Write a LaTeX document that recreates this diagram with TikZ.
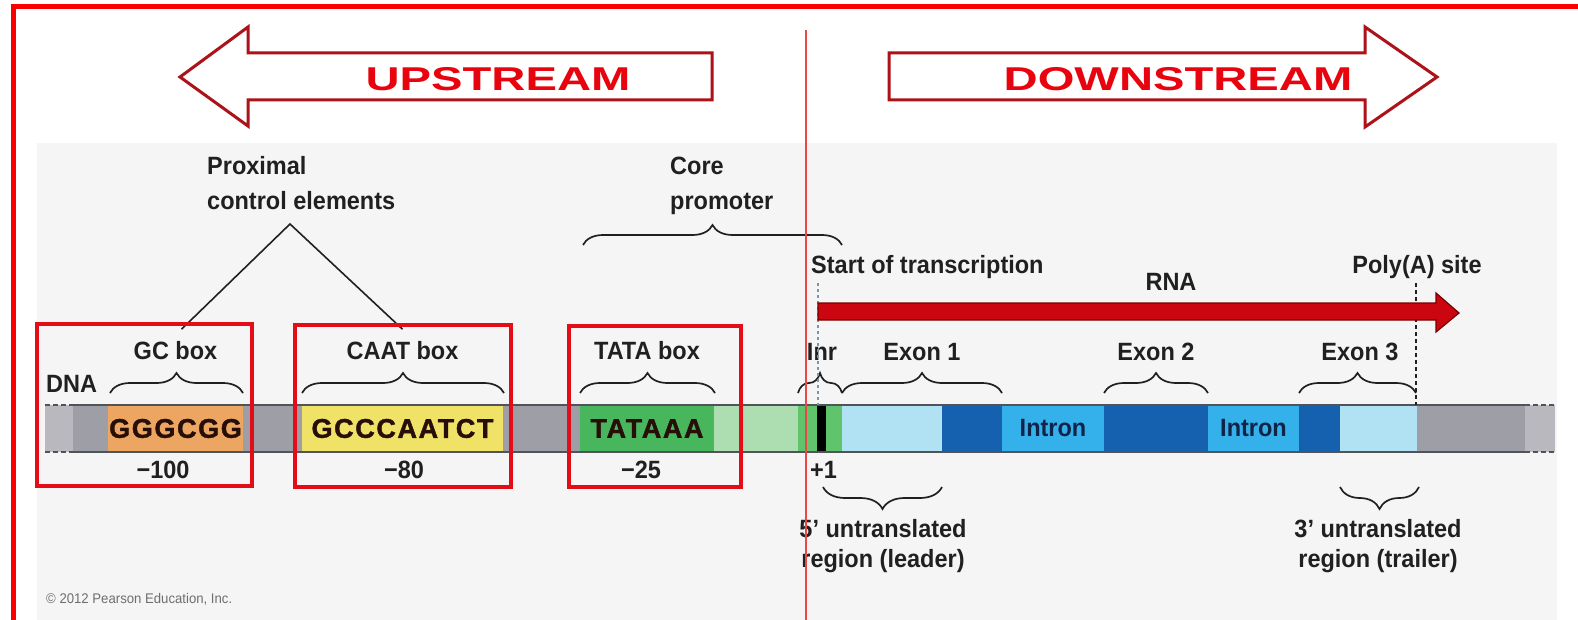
\documentclass[tikz,border=0pt]{standalone}
\usepackage{fontspec}
\setmainfont{Liberation Sans}[FakeStretch=0.94]
\newfontfamily\bannerfont{Liberation Sans}[FakeStretch=1.43]
\newfontfamily\seqfont{Liberation Sans}[LetterSpace=6, FakeBold=1.5]
\usepackage{tikz}
\usetikzlibrary{positioning, decorations.pathreplacing}
\definecolor{framered}{RGB}{250,0,0}
\definecolor{markred}{RGB}{236,70,70}
\definecolor{bannerred}{RGB}{172,18,24}
\definecolor{bannertext}{RGB}{232,4,14}
\definecolor{panelgray}{RGB}{245,245,245}
\definecolor{inkgray}{RGB}{32,32,32}
\definecolor{copygray}{RGB}{110,110,110}
\definecolor{dnagray}{RGB}{158,158,166}
\definecolor{dnaend}{RGB}{184,184,190}
\definecolor{dnaedge}{RGB}{80,84,88}
\definecolor{seqink}{RGB}{40,14,8}
\definecolor{intronink}{RGB}{16,36,72}
\definecolor{gcorange}{RGB}{236,166,98}
\definecolor{caatyellow}{RGB}{240,226,102}
\definecolor{tatagreen}{RGB}{72,182,92}
\definecolor{palegreen}{RGB}{172,222,178}
\definecolor{inrgreen}{RGB}{96,196,108}
\definecolor{utrblue}{RGB}{176,226,243}
\definecolor{exonblue}{RGB}{22,96,176}
\definecolor{intronblue}{RGB}{52,176,234}
\definecolor{rnared}{RGB}{204,6,16}
\definecolor{rnaedge}{RGB}{120,0,0}
\definecolor{boxred}{RGB}{228,12,22}
\definecolor{tssblue}{RGB}{120,150,180}

\begin{document}
\begin{tikzpicture}[x=1pt, y=-1pt,
    lbl/.style={font=\fontsize{25}{35}\selectfont\bfseries, text=inkgray, inner sep=0pt},
    utrlbl/.style={lbl, font=\fontsize{25}{30}\selectfont\bfseries, align=center, anchor=base},
    seg/.style={minimum height=47pt, inner sep=0pt, outer sep=0pt},
    seqbox/.style={seg, font=\fontsize{27}{27}\selectfont\seqfont\bfseries, text=seqink},
    banner/.style={draw=bannerred, line width=3pt, fill=white, line join=miter},
    bannerlbl/.style={font=\fontsize{33}{33}\selectfont\bannerfont\bfseries, text=bannertext, inner sep=0pt},
    brc/.style={decorate, decoration={brace, amplitude=20pt}, draw=inkgray, line width=1.7pt},
    brcdown/.style={brc, decoration={brace, amplitude=22pt}},
    hilite/.style={draw=boxred, line width=3.5pt},
]
  \useasboundingbox (0,0) rectangle (1578,620);
  \fill[white] (0,0) rectangle (1578,620);
  \draw[framered, line width=5pt] (13,620) -- (13,6.5) -- (1578,6.5);

  \draw[banner] (180,77) -- (248,27) -- (248,53) -- (712,53) -- (712,100) -- (248,100) -- (248,126) -- cycle;
  \node[bannerlbl] (upstream) at (498,79) {UPSTREAM};
  \draw[banner] (1437,77) -- (1365,27) -- (1365,53) -- (889,53) -- (889,100) -- (1365,100) -- (1365,127) -- cycle;
  \node[bannerlbl] (downstream) at (1178,79) {DOWNSTREAM};

  \fill[panelgray] (37,143) rectangle (1557,620);

  \fill[dnagray] (73,405) rectangle (1525,452);
  \fill[dnaend] (45,405) rectangle (73,452);
  \fill[dnaend] (1525,405) rectangle (1555,452);
  \node[seqbox, fill=gcorange, minimum width=135pt] (gc) at (175.5,428.5) {GGGCGG};
  \node[seqbox, fill=caatyellow, minimum width=201pt] (caat) at (402.5,428.5) {GCCCAATCT};
  \node[seqbox, fill=tatagreen, minimum width=134pt] (tata) at (647,428.5) {TATAAA};
  \fill[palegreen] (714,405) rectangle (798,452);
  \fill[inrgreen] (798,405) rectangle (842,452);
  \fill[black] (817,405) rectangle (826,452);
  \fill[utrblue] (842,405) rectangle (942,452);
  \fill[exonblue] (942,405) rectangle (1002,452);
  \node[seg, lbl, fill=intronblue, minimum width=102pt, text=intronink] (intron1) at (1053,428.5) {Intron};
  \fill[exonblue] (1104,405) rectangle (1208,452);
  \node[seg, lbl, fill=intronblue, minimum width=91pt, text=intronink] (intron2) at (1253.5,428.5) {Intron};
  \fill[exonblue] (1299,405) rectangle (1340,452);
  \fill[utrblue] (1340,405) rectangle (1417,452);
  \draw[dnaedge, line width=2pt] (73,405) -- (1525,405) (73,452) -- (1525,452);
  \draw[dnaedge, line width=2pt, dash pattern=on 5pt off 3pt]
    (45,405) -- (73,405) (45,452) -- (73,452) (1525,405) -- (1555,405) (1525,452) -- (1555,452);

  \node[lbl, anchor=base west] (dna) at (46,392) {DNA};
  \node[lbl, above=45pt of gc] (gclbl) {GC box};
  \node[lbl, above=45pt of caat] (caatlbl) {CAAT box};
  \node[lbl, above=45pt of tata] (tatalbl) {TATA box};
  \node[lbl, anchor=base] (inrlbl) at (822,360) {Inr};
  \node[lbl, anchor=base] (exon1lbl) at (922,360) {Exon 1};
  \node[lbl, anchor=base] (exon2lbl) at (1156,360) {Exon 2};
  \node[lbl, anchor=base] (exon3lbl) at (1360,360) {Exon 3};

  \draw[brc] (110,393) -- (243,393);
  \draw[brc] (302,393) -- (504,393);
  \draw[brc] (580,393) -- (715,393);
  \draw[brc] (798,393) -- (842,393);
  \draw[brc] (842,393) -- (1002,393);
  \draw[brc] (1104,393) -- (1208,393);
  \draw[brc] (1299,393) -- (1416,393);
  \draw[brc] (583,245) -- (842,245);
  \draw[brcdown] (942,487) -- (823,487);
  \draw[brcdown] (1419,487) -- (1340,487);

  \node[lbl, align=left, anchor=base west] (proximal) at (207,210) {Proximal\\control elements};
  \node[lbl, align=left, anchor=base west] (core) at (670,210) {Core\\promoter};
  \coordinate (fork) at (290,224);
  \draw[inkgray, line width=1.6pt] ([xshift=6pt,yshift=12pt]gclbl.north) -- (fork) -- ([yshift=12pt]caatlbl.north);

  \node[lbl, anchor=base] (pos100) at (163,478) {−100};
  \node[lbl, anchor=base] (pos80) at (404,478) {−80};
  \node[lbl, anchor=base] (pos25) at (641,478) {−25};
  \node[lbl, anchor=base west] (pos1) at (810,478) {+1};

  \node[lbl, anchor=base west] (tss) at (811,273) {Start of transcription};
  \node[lbl, anchor=base] (rna) at (1171,290) {RNA};
  \node[lbl, anchor=base] (polya) at (1417,273) {Poly(A) site};
  \draw[tssblue, line width=1.3pt, dash pattern=on 3pt off 3pt] (818,283) -- (818,405);
  \draw[inkgray, line width=1.3pt, dash pattern=on 4pt off 3pt] (1416,283) -- (1416,405);
  \draw[rnaedge, fill=rnared, line width=1.2pt]
    (818,303) -- (1436,303) -- (1436,293) -- (1459,313) -- (1436,332) -- (1436,320) -- (818,320) -- cycle;

  \node[utrlbl] (utr5) at (883,567) {5' untranslated\\region (leader)};
  \node[utrlbl] (utr3) at (1378,567) {3' untranslated\\region (trailer)};

  \draw[hilite] (37,324) rectangle (252,486);
  \draw[hilite] (295,325) rectangle (511,487);
  \draw[hilite] (569,326) rectangle (741,487);

  \node[anchor=base west, inner sep=0pt, font=\fontsize{14}{14}\selectfont, text=copygray] (credit) at (46,603) {© 2012 Pearson Education, Inc.};

  \draw[markred, line width=1.5pt] (806,30) -- (806,620);
\end{tikzpicture}
\end{document}
